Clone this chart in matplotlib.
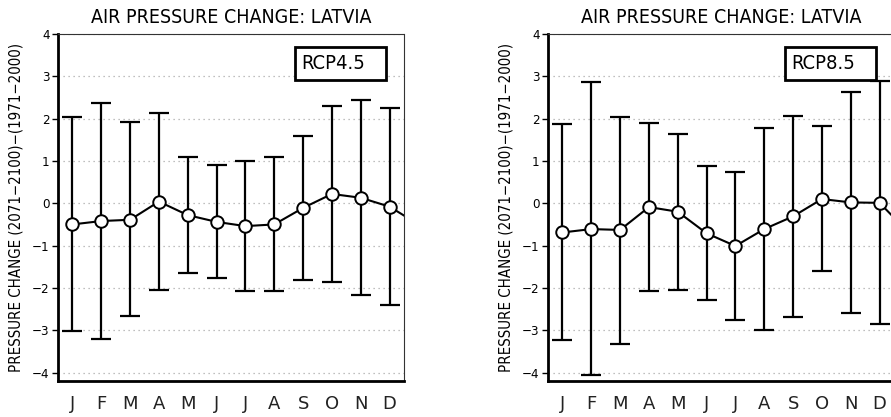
import numpy as np
import matplotlib.pyplot as plt
from matplotlib.patches import Rectangle

plt.rcParams['font.family'] = ['DejaVu Sans']
plt.rcParams['font.stretch'] = 'condensed'

months = ['J', 'F', 'M', 'A', 'M', 'J', 'J', 'A', 'S', 'O', 'N', 'D']

# RCP4.5: ensemble mean, upper and lower range
mean_45 = [-0.50, -0.42, -0.39, 0.04, -0.28, -0.44, -0.54, -0.50, -0.11, 0.22, 0.13, -0.08]
high_45 = [2.03, 2.37, 1.91, 2.13, 1.09, 0.90, 1.00, 1.10, 1.58, 2.30, 2.45, 2.25]
low_45 = [-3.02, -3.20, -2.67, -2.04, -1.65, -1.76, -2.07, -2.07, -1.81, -1.87, -2.17, -2.41]

# RCP8.5
mean_85 = [-0.69, -0.61, -0.63, -0.09, -0.20, -0.71, -1.01, -0.61, -0.31, 0.10, 0.02, 0.01]
high_85 = [1.88, 2.87, 2.05, 1.89, 1.63, 0.88, 0.73, 1.78, 2.07, 1.83, 2.64, 2.89]
low_85 = [-3.24, -4.06, -3.32, -2.07, -2.04, -2.28, -2.75, -3.00, -2.69, -1.60, -2.60, -2.86]

panels = [('RCP4.5', mean_45, high_45, low_45, 58),
          ('RCP8.5', mean_85, high_85, low_85, 548)]

W, H = 891, 417
fig = plt.figure(figsize=(W / 100, H / 100), dpi=100)

for name, mean, high, low, x0 in panels:
    ax = fig.add_axes([x0 / W, 36 / H, 346 / W, 347 / H])
    mean = np.array(mean)
    x = np.arange(12) + 0.5
    yerr = [mean - np.array(low), np.array(high) - mean]
    ax.errorbar(x, mean, yerr=yerr, fmt='none', ecolor='black', elinewidth=1.6,
                capsize=7, capthick=1.6, zorder=3)
    # line wraps round to next January so it runs off the right edge
    xw = np.append(x, 12.5)
    yw = np.append(mean, mean[0])
    ax.plot(xw, yw, '-o', color='black', lw=1.5, ms=9, mfc='white',
            mec='black', mew=1.4, zorder=4)

    ax.set_xlim(0, 12)
    ax.set_ylim(-4.2, 4)
    ax.set_xticks(x)
    ax.set_xticklabels(months, fontsize=13, fontstretch='normal', color='#222222')
    ax.tick_params(axis='x', length=0, pad=10)
    ax.set_yticks(range(-4, 5))
    ax.set_yticklabels([str(v).replace('-', '\u2212') for v in range(-4, 5)], fontsize=9.5)
    ax.tick_params(axis='y', length=4, width=1, pad=2)
    ax.grid(axis='y', linestyle=(0, (1, 3)), color='#aaaaaa', lw=0.9)
    for s in ['left', 'bottom']:
        ax.spines[s].set_linewidth(2)
    ax.spines['right'].set_linewidth(0.8)
    ax.spines['top'].set_linewidth(0.8)
    ax.spines['top'].set_linestyle((0, (3, 1)))
    ax.spines['top'].set_color('#333333')
    ax.spines['right'].set_color('#333333')

    ax.set_title('AIR PRESSURE CHANGE: LATVIA', fontsize=14, pad=8)
    ax.set_ylabel('PRESSURE CHANGE (2071\u22122100)\u2212(1971\u22122000)', fontsize=10.8,
                  labelpad=6)
    ax.add_patch(Rectangle((8.22, 2.91), 3.16, 0.78, fc='white', ec='black',
                           lw=2, zorder=5))
    ax.text(8.42, 3.3, name, fontsize=14.5, va='center', ha='left', zorder=6)

fig.savefig('out.png', dpi=100)
